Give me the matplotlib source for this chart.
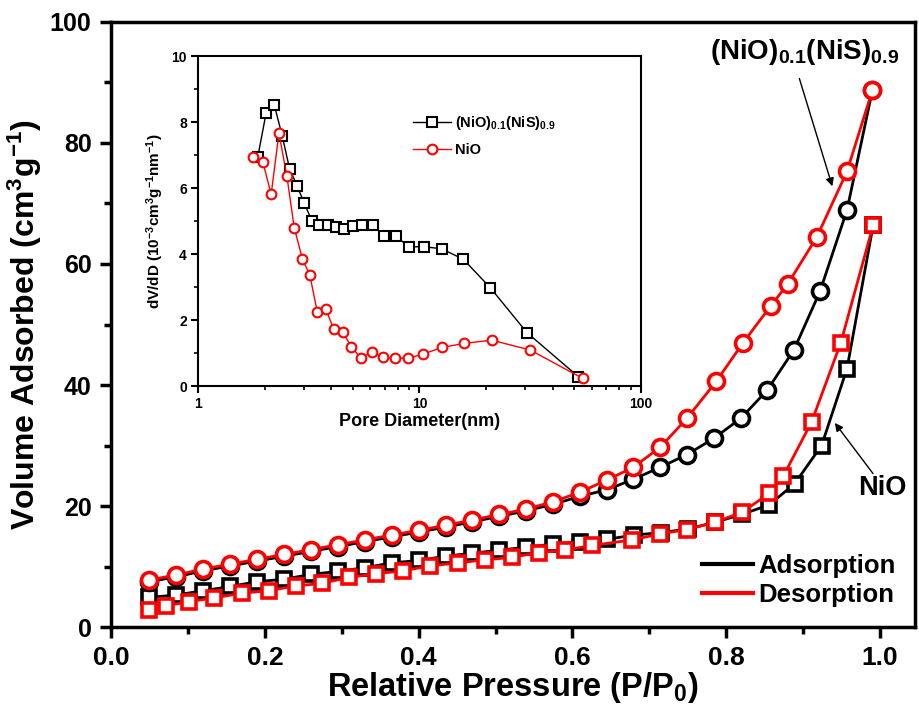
import numpy as np
import matplotlib
matplotlib.use("Agg")
import matplotlib.pyplot as plt
from matplotlib.lines import Line2D
from matplotlib.ticker import MultipleLocator, LogLocator, NullFormatter

plt.rcParams['font.family'] = ['Liberation Sans', 'DejaVu Sans']
plt.rcParams['font.weight'] = 'bold'
plt.rcParams['mathtext.fontset'] = 'custom'
plt.rcParams['mathtext.rm'] = 'Liberation Sans:bold'
plt.rcParams['mathtext.bf'] = 'Liberation Sans:bold'
plt.rcParams['mathtext.it'] = 'Liberation Sans:bold'
plt.rcParams['mathtext.default'] = 'bf'

# (NiO)0.1(NiS)0.9 isotherm
p_comp_ads = [0.05, 0.085, 0.12, 0.155, 0.19, 0.225, 0.26, 0.295, 0.33, 0.365, 0.40, 0.435,
              0.47, 0.505, 0.54, 0.575, 0.61, 0.645, 0.679, 0.714, 0.749, 0.784, 0.819,
              0.853, 0.888, 0.922, 0.957, 0.990]
v_comp_ads = [7.5, 8.3, 9.3, 10.1, 10.9, 11.7, 12.5, 13.3, 14.1, 14.9, 15.7, 16.5, 17.4, 18.3,
              19.2, 20.3, 21.6, 22.7, 24.4, 26.4, 28.5, 31.2, 34.5, 39.1, 45.8, 55.5, 68.9, 88.7]
p_comp_des = [0.05, 0.085, 0.12, 0.155, 0.19, 0.225, 0.26, 0.295, 0.33, 0.365, 0.40, 0.435,
              0.47, 0.505, 0.54, 0.575, 0.61, 0.645, 0.679, 0.714, 0.749, 0.787, 0.822,
              0.858, 0.880, 0.918, 0.957, 0.990]
v_comp_des = [7.8, 8.6, 9.6, 10.4, 11.2, 12.0, 12.8, 13.6, 14.4, 15.2, 16.0, 16.8, 17.7, 18.6,
              19.5, 20.7, 22.3, 24.3, 26.4, 29.7, 34.5, 40.6, 47.0, 53.1, 56.7, 64.5, 75.3, 88.7]

# NiO isotherm
p_nio_ads = [0.05, 0.085, 0.12, 0.155, 0.19, 0.225, 0.26, 0.295, 0.33, 0.365, 0.40, 0.435,
             0.47, 0.505, 0.54, 0.575, 0.61, 0.645, 0.68, 0.715, 0.75, 0.785, 0.82, 0.856,
             0.889, 0.924, 0.957, 0.991]
v_nio_ads = [4.9, 5.3, 6.0, 6.7, 7.5, 7.9, 8.7, 9.2, 9.8, 10.6, 11.0, 11.7, 12.2, 12.7, 13.2,
             13.7, 14.1, 14.5, 15.2, 15.6, 16.2, 17.3, 18.6, 20.2, 23.7, 30.0, 42.7, 66.4]
p_nio_des = [0.049, 0.072, 0.101, 0.134, 0.170, 0.205, 0.240, 0.274, 0.309, 0.345, 0.380,
             0.415, 0.451, 0.486, 0.521, 0.556, 0.590, 0.626, 0.678, 0.714, 0.749, 0.785,
             0.821, 0.856, 0.874, 0.911, 0.949, 0.991]
v_nio_des = [2.8, 3.5, 4.2, 4.8, 5.6, 6.0, 6.8, 7.2, 8.2, 8.8, 9.3, 10.1, 10.6, 11.1, 11.5,
             12.3, 12.7, 13.5, 14.4, 15.4, 16.1, 17.3, 19.0, 22.1, 24.9, 33.9, 47.0, 66.4]

# inset: pore size distribution
d_comp = [1.86, 2.03, 2.21, 2.40, 2.59, 2.80, 3.02, 3.27, 3.53, 3.85, 4.20, 4.58, 5.01, 5.52,
          6.17, 6.89, 7.83, 8.93, 10.5, 12.6, 15.8, 20.9, 30.6, 52.3]
dv_comp = [6.93, 8.27, 8.52, 7.58, 6.59, 6.07, 5.54, 5.00, 4.88, 4.88, 4.81, 4.76, 4.85, 4.87,
           4.89, 4.55, 4.55, 4.22, 4.22, 4.16, 3.84, 2.98, 1.62, 0.28]
d_nio = [1.78, 1.96, 2.14, 2.32, 2.52, 2.72, 2.96, 3.20, 3.46, 3.78, 4.10, 4.50, 4.92, 5.45,
         6.08, 6.84, 7.78, 8.90, 10.4, 12.7, 15.9, 21.2, 31.7, 54.7]
dv_nio = [6.95, 6.80, 5.81, 7.66, 6.36, 4.80, 3.85, 3.36, 2.23, 2.32, 1.73, 1.65, 1.19, 0.84,
          1.04, 0.87, 0.84, 0.84, 0.97, 1.17, 1.29, 1.39, 1.09, 0.23]

RED = '#ff0000'

fig = plt.figure(figsize=(9.19, 7.11), dpi=100)
ax = fig.add_axes([0.1208, 0.1181, 0.8749, 0.851])

style = dict(lw=2, markerfacecolor='white', markeredgewidth=2.6)
ax.plot(p_nio_ads, v_nio_ads, color='black', marker='s', markersize=10, **style)
ax.plot(p_nio_des, v_nio_des, color=RED, marker='s', markersize=10, **style)
ax.plot(p_comp_ads, v_comp_ads, color='black', marker='o', markersize=11.5, **style)
ax.plot(p_comp_des, v_comp_des, color=RED, marker='o', markersize=11.5, **style)

ax.set_xlim(0, 1.0455)
ax.set_ylim(0, 100)
ax.xaxis.set_major_locator(MultipleLocator(0.2))
ax.xaxis.set_minor_locator(MultipleLocator(0.1))
ax.yaxis.set_major_locator(MultipleLocator(20))
ax.yaxis.set_minor_locator(MultipleLocator(10))
ax.xaxis.set_major_formatter(plt.FuncFormatter(lambda v, p: f'{v:.1f}'))
ax.tick_params(which='major', direction='out', length=8, width=2.5, labelsize=18, pad=6)
ax.tick_params(axis='x', which='major', labelsize=19)
ax.tick_params(which='minor', direction='out', length=5, width=2.5)
for s in ax.spines.values():
    s.set_linewidth(2.5)
for lab in ax.get_xticklabels() + ax.get_yticklabels():
    lab.set_fontweight('bold')

ax.set_xlabel(r'Relative Pressure (P/P$_\mathbf{0}$)', fontsize=23.5, fontweight='bold', labelpad=0)
ax.set_ylabel(r'Volume Adsorbed (cm$^\mathbf{3}$g$^\mathbf{-1}$)', fontsize=23,
              fontweight='bold', labelpad=4)

handles = [Line2D([], [], color='black', lw=3), Line2D([], [], color=RED, lw=3)]
ax.legend(handles, ['Adsorption', 'Desorption'], loc='lower right', bbox_to_anchor=(1.005, -0.005),
          frameon=False, handlelength=2.0, handletextpad=0.2, labelspacing=0.2,
          prop=dict(weight='bold', size=18.5))

ax.text(0.902, 95.0, r'$\mathbf{(NiO)_{0.1}(NiS)_{0.9}}$', fontsize=20, ha='center', va='center')
ax.annotate('', xy=(0.939, 72.4), xytext=(0.894, 91.1),
            arrowprops=dict(arrowstyle='-|>', color='black', lw=1, mutation_scale=12))
ax.text(1.003, 22.9, 'NiO', fontsize=19.5, fontweight='bold', ha='center', va='center')
ax.annotate('', xy=(0.939, 34.1), xytext=(0.993, 25.0),
            arrowprops=dict(arrowstyle='-|>', color='black', lw=1, mutation_scale=12))

# inset
ins = fig.add_axes([0.2155, 0.4571, 0.4817, 0.4641])
ins.plot(d_comp, dv_comp, color='black', lw=1, marker='s', markersize=6.5,
         markerfacecolor='white', markeredgewidth=1.5, label=r'(NiO)$_\mathbf{0.1}$(NiS)$_\mathbf{0.9}$')
ins.plot(d_nio, dv_nio, color=RED, lw=1, marker='o', markersize=7,
         markerfacecolor='white', markeredgewidth=1.5, label='NiO')
ins.set_xscale('log')
ins.set_xlim(1, 100)
ins.set_ylim(0, 10)
ins.yaxis.set_major_locator(MultipleLocator(2))
ins.yaxis.set_minor_locator(MultipleLocator(1))
ins.xaxis.set_major_formatter(plt.FuncFormatter(lambda v, p: f'{v:g}'))
ins.xaxis.set_minor_locator(LogLocator(base=10, subs=np.arange(2, 10)))
ins.xaxis.set_minor_formatter(NullFormatter())
ins.tick_params(which='major', direction='out', length=5, width=1.5, labelsize=10, pad=3)
ins.tick_params(which='minor', direction='out', length=3, width=1.2)
for s in ins.spines.values():
    s.set_linewidth(1.5)
for lab in ins.get_xticklabels() + ins.get_yticklabels():
    lab.set_fontweight('bold')
ins.set_xlabel('Pore Diameter(nm)', fontsize=13, fontweight='bold', labelpad=1)
ins.set_ylabel(r'dV/dD (10$^\mathbf{-3}$cm$^\mathbf{3}$g$^\mathbf{-1}$nm$^\mathbf{-1}$)',
               fontsize=11, fontweight='bold', labelpad=4)
ins.legend(loc='upper left', bbox_to_anchor=(0.455, 0.865), frameon=False,
           prop=dict(weight='bold', size=10.5), handlelength=2.6, handletextpad=0.3,
           labelspacing=0.75)

fig.savefig('out.png', dpi=100)
